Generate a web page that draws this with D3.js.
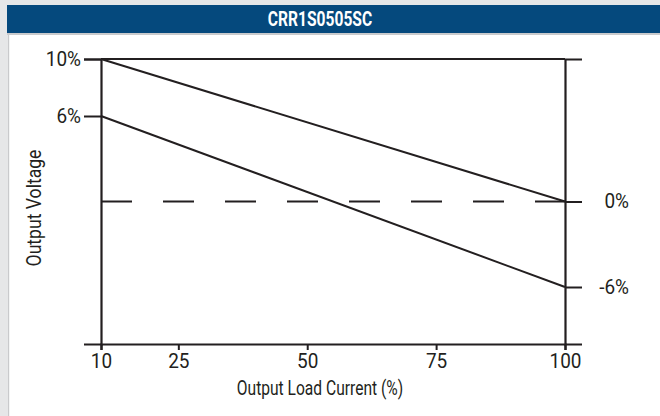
<!DOCTYPE html>
<html>
<head>
<meta charset="utf-8">
<script src="https://cdn.jsdelivr.net/npm/d3@7/dist/d3.min.js"></script>
<style>
  html, body { margin: 0; padding: 0; background: #fff; }
  svg { display: block; }
  text { font-family: "Liberation Sans Narrow", "Arial Narrow", "Roboto", sans-serif; fill: #231f20; }
</style>
</head>
<body>
<svg id="chart" width="660" height="416"></svg>
<script>
// ---- data ----
const title = "CRR1S0505SC";
const xTicks = [10, 25, 50, 75, 100];
const loadCurrent = [10, 100];
const upperLine = [10, 0];     // output voltage deviation (%)
const lowerLine = [6, -6];
const referenceLine = [0, 0];
const leftTicks = [10, 6];
const rightTicks = [0, -6];
const xLabel = "Output Load Current (%)";
const yLabel = "Output Voltage";

const svg = d3.select("#chart");
const W = 660, H = 416;
const ink = "#231f20";
const FS = "20px";

function condense(sel, sx) {
  sel.each(function () {
    const t = d3.select(this);
    const tx = +t.attr("x") || 0, ty = +t.attr("y") || 0;
    const prev = t.attr("transform") || "";
    t.attr("x", 0).attr("y", 0)
     .attr("transform", `${prev} translate(${tx},${ty}) scale(${sx},1)`);
  });
}

// background frame
svg.append("rect").attr("x", 0).attr("y", 0).attr("width", W).attr("height", H).attr("fill", "#e6e7e8");
svg.append("rect").attr("x", 8).attr("y", 33).attr("width", W - 8).attr("height", H - 33).attr("fill", "#fff");
svg.append("rect").attr("x", 8).attr("y", 33).attr("width", 1.2).attr("height", H - 33).attr("fill", "#c9cacc");
svg.append("rect").attr("x", 7).attr("y", 5).attr("width", W - 7).attr("height", 28).attr("fill", "#05497d");
svg.append("rect").attr("x", 7).attr("y", 33).attr("width", W - 7).attr("height", 2).attr("fill", "#c9cacc");
svg.append("text").attr("x", 320).attr("y", 19).attr("text-anchor", "middle").attr("dominant-baseline", "central")
  .style("fill", "#fff").style("font-weight", "bold").style("font-size", "20px").text(title)
  .call(condense, 0.78);

// scales
const x = d3.scaleLinear().domain([10, 100]).range([101, 565]);
const y = d3.scaleLinear().domain([-10, 10]).range([344, 59]);

function styleAxis(g) {
  g.select(".domain").attr("stroke", ink).attr("stroke-width", 2.2);
  g.selectAll(".tick line").attr("stroke", ink).attr("stroke-width", 2);
  g.selectAll(".tick text").style("font-size", FS).style("font-family", null).attr("fill", ink);
}

// bottom axis
const xAxis = svg.append("g").attr("transform", `translate(0,${y(-10)})`)
  .call(d3.axisBottom(x).tickValues(xTicks).tickSize(6).tickPadding(4).tickFormat(d3.format("d")));
styleAxis(xAxis);
xAxis.selectAll(".tick text").call(condense, 0.95);

// left axis
const yAxisL = svg.append("g").attr("transform", `translate(${x(10)},0)`)
  .call(d3.axisLeft(y).tickValues(leftTicks).tickSize(17).tickPadding(3).tickFormat(d => d + "%"));
styleAxis(yAxisL);
yAxisL.selectAll(".tick text").call(condense, 0.95);

// right axis
const yAxisR = svg.append("g").attr("transform", `translate(${x(100)},0)`)
  .call(d3.axisRight(y).tickValues(rightTicks).tickSize(17).tickPadding(46).tickFormat(d => d + "%"));
styleAxis(yAxisR);
yAxisR.selectAll(".tick text").attr("text-anchor", "end").attr("x", 64).call(condense, 0.95);

// top frame line
svg.append("line").attr("x1", x(10)).attr("x2", x(100)).attr("y1", y(10)).attr("y2", y(10))
  .attr("stroke", ink).attr("stroke-width", 2.2);

// data lines
const line = d3.line().x(d => x(d[0])).y(d => y(d[1]));
const series = [
  { vals: upperLine, dash: null },
  { vals: lowerLine, dash: null },
  { vals: referenceLine, dash: "31 31" }
];
series.forEach(s => {
  svg.append("path").datum(loadCurrent.map((c, i) => [c, s.vals[i]]))
    .attr("d", line).attr("fill", "none").attr("stroke", ink).attr("stroke-width", 2)
    .attr("stroke-dasharray", s.dash);
});

// axis titles
svg.append("text").attr("x", 320).attr("y", 395).attr("text-anchor", "middle")
  .style("font-size", FS).text(xLabel).call(condense, 0.78);
svg.append("text").attr("transform", `translate(41,208) rotate(-90) scale(0.88,1)`)
  .attr("text-anchor", "middle").style("font-size", FS).text(yLabel);
</script>
</body>
</html>
